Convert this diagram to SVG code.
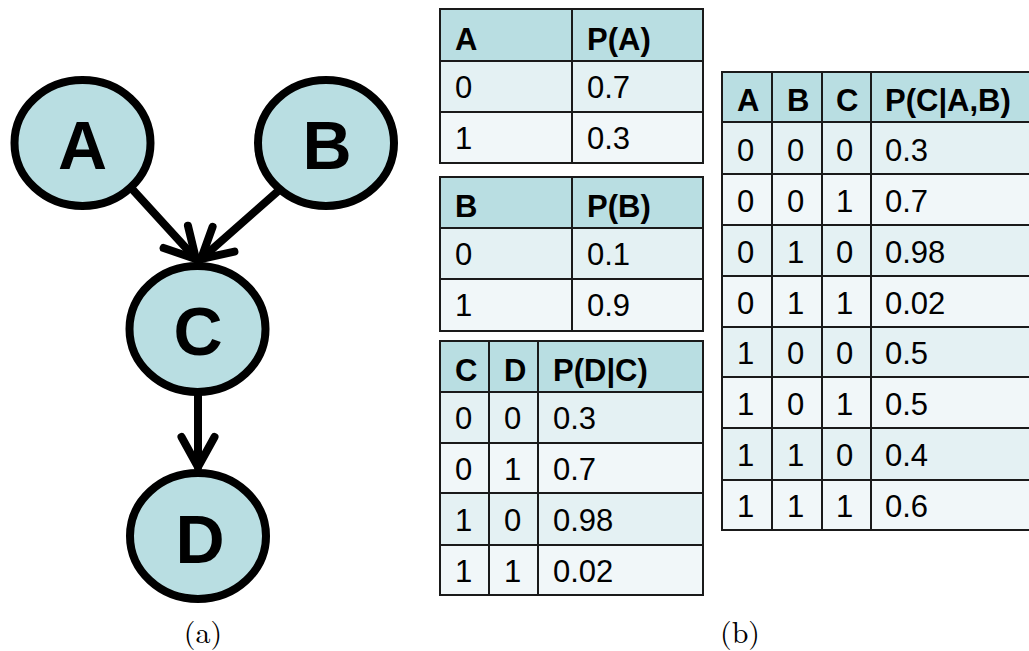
<svg xmlns="http://www.w3.org/2000/svg" width="1029" height="651" viewBox="0 0 1029 651">
<style>
.node ellipse{fill:#b9dee2;stroke:#000;stroke-width:8}
.node text{font-family:"Liberation Sans",Arial,sans-serif;font-weight:bold;font-size:68px;text-anchor:middle;fill:#000}
.edge{stroke:#000;stroke-width:8;fill:none;stroke-linecap:round}
.hd{fill:#b9dee2}
.r1{fill:#e4f1f3}
.r2{fill:#f1f7f9}
.grid{stroke:#1a1a1a;stroke-width:2;fill:none}
.th{font-family:"Liberation Sans",Arial,sans-serif;font-weight:bold;font-size:31px;fill:#000}
.td{font-family:"Liberation Sans",Arial,sans-serif;font-size:31px;fill:#000}
.cap{font-family:"Latin Modern Roman","Liberation Serif",serif;font-size:30px;text-anchor:middle;fill:#000}
</style>
<defs>
<marker id="vee" markerUnits="userSpaceOnUse" orient="auto" refX="0" refY="0" markerWidth="60" markerHeight="60" viewBox="-40 -30 60 60" overflow="visible">
<path d="M -30 -16.5 L 0 0 L -30 16.5" fill="none" stroke="#000" stroke-width="8" stroke-linecap="round" stroke-linejoin="miter"/>
</marker>
</defs>
<rect width="1029" height="651" fill="#fff"/>
<g id="connectors">
<line class="edge" x1="133" y1="190" x2="196" y2="259" marker-end="url(#vee)"/>
<line class="edge" x1="277" y1="192" x2="201" y2="259" marker-end="url(#vee)"/>
<line class="edge" x1="198" y1="395" x2="198" y2="467" marker-end="url(#vee)"/>
</g>
<g id="node-A" class="node"><ellipse cx="82.5" cy="143" rx="68" ry="63"/><text x="82.5" y="169">A</text></g>
<g id="node-B" class="node"><ellipse cx="326" cy="143" rx="68" ry="63"/><text x="327" y="169">B</text></g>
<g id="node-C" class="node"><ellipse cx="197.5" cy="329" rx="68" ry="63"/><text x="198" y="355">C</text></g>
<g id="node-D" class="node"><ellipse cx="198" cy="536" rx="68" ry="63"/><text x="200" y="563">D</text></g>

<g id="table-A">
<rect class="hd" x="440" y="9" width="263" height="52"/>
<rect class="r1" x="440" y="61" width="263" height="51"/>
<rect class="r2" x="440" y="112" width="263" height="51"/>
<path class="grid" d="M440 9H703V163H440Z M440 61H703 M440 112H703 M572 9V163"/>
<text class="th" x="455" y="50">A</text><text class="th" x="587" y="50">P(A)</text>
<text class="td" x="455" y="98">0</text><text class="td" x="587" y="98">0.7</text>
<text class="td" x="455" y="149">1</text><text class="td" x="587" y="149">0.3</text>
</g>

<g id="table-B">
<rect class="hd" x="440" y="177" width="263" height="51"/>
<rect class="r1" x="440" y="228" width="263" height="51"/>
<rect class="r2" x="440" y="279" width="263" height="52"/>
<path class="grid" d="M440 177H703V331H440Z M440 228H703 M440 279H703 M572 177V331"/>
<text class="th" x="455" y="217">B</text><text class="th" x="587" y="217">P(B)</text>
<text class="td" x="455" y="265">0</text><text class="td" x="587" y="265">0.1</text>
<text class="td" x="455" y="316">1</text><text class="td" x="587" y="316">0.9</text>
</g>

<g id="table-C">
<rect class="hd" x="440" y="341" width="263" height="51"/>
<rect class="r1" x="440" y="392" width="263" height="51"/>
<rect class="r2" x="440" y="443" width="263" height="50"/>
<rect class="r1" x="440" y="493" width="263" height="52"/>
<rect class="r2" x="440" y="545" width="263" height="50"/>
<path class="grid" d="M440 341H703V595H440Z M440 392H703 M440 443H703 M440 493H703 M440 545H703 M489 341V595 M538 341V595"/>
<text class="th" x="455" y="381">C</text><text class="th" x="504" y="381">D</text><text class="th" x="553" y="381">P(D|C)</text>
<text class="td" x="455" y="429">0</text><text class="td" x="504" y="429">0</text><text class="td" x="553" y="429">0.3</text>
<text class="td" x="455" y="480">0</text><text class="td" x="504" y="480">1</text><text class="td" x="553" y="480">0.7</text>
<text class="td" x="455" y="531">1</text><text class="td" x="504" y="531">0</text><text class="td" x="553" y="531">0.98</text>
<text class="td" x="455" y="582">1</text><text class="td" x="504" y="582">1</text><text class="td" x="553" y="582">0.02</text>
</g>

<g id="table-ABC">
<rect class="hd" x="722" y="72" width="320" height="50"/>
<rect class="r1" x="722" y="122" width="320" height="52"/>
<rect class="r2" x="722" y="174" width="320" height="51"/>
<rect class="r1" x="722" y="225" width="320" height="51"/>
<rect class="r2" x="722" y="276" width="320" height="51"/>
<rect class="r1" x="722" y="327" width="320" height="50"/>
<rect class="r2" x="722" y="377" width="320" height="51"/>
<rect class="r1" x="722" y="428" width="320" height="52"/>
<rect class="r2" x="722" y="480" width="320" height="50"/>
<path class="grid" d="M1040 72H722V530H1040 M722 122H1040 M722 174H1040 M722 225H1040 M722 276H1040 M722 327H1040 M722 377H1040 M722 428H1040 M722 480H1040 M772 72V530 M822 72V530 M871 72V530"/>
<text class="th" x="737" y="111">A</text><text class="th" x="787" y="111">B</text><text class="th" x="836" y="111">C</text><text class="th" x="885" y="111">P(C|A,B)</text>
<text class="td" x="737" y="161">0</text><text class="td" x="787" y="161">0</text><text class="td" x="836" y="161">0</text><text class="td" x="885" y="161">0.3</text>
<text class="td" x="737" y="212">0</text><text class="td" x="787" y="212">0</text><text class="td" x="836" y="212">1</text><text class="td" x="885" y="212">0.7</text>
<text class="td" x="737" y="263">0</text><text class="td" x="787" y="263">1</text><text class="td" x="836" y="263">0</text><text class="td" x="885" y="263">0.98</text>
<text class="td" x="737" y="314">0</text><text class="td" x="787" y="314">1</text><text class="td" x="836" y="314">1</text><text class="td" x="885" y="314">0.02</text>
<text class="td" x="737" y="364">1</text><text class="td" x="787" y="364">0</text><text class="td" x="836" y="364">0</text><text class="td" x="885" y="364">0.5</text>
<text class="td" x="737" y="415">1</text><text class="td" x="787" y="415">0</text><text class="td" x="836" y="415">1</text><text class="td" x="885" y="415">0.5</text>
<text class="td" x="737" y="466">1</text><text class="td" x="787" y="466">1</text><text class="td" x="836" y="466">0</text><text class="td" x="885" y="466">0.4</text>
<text class="td" x="737" y="517">1</text><text class="td" x="787" y="517">1</text><text class="td" x="836" y="517">1</text><text class="td" x="885" y="517">0.6</text>
</g>

<text class="cap" x="203" y="643">(a)</text>
<text class="cap" x="740" y="643">(b)</text>
</svg>
